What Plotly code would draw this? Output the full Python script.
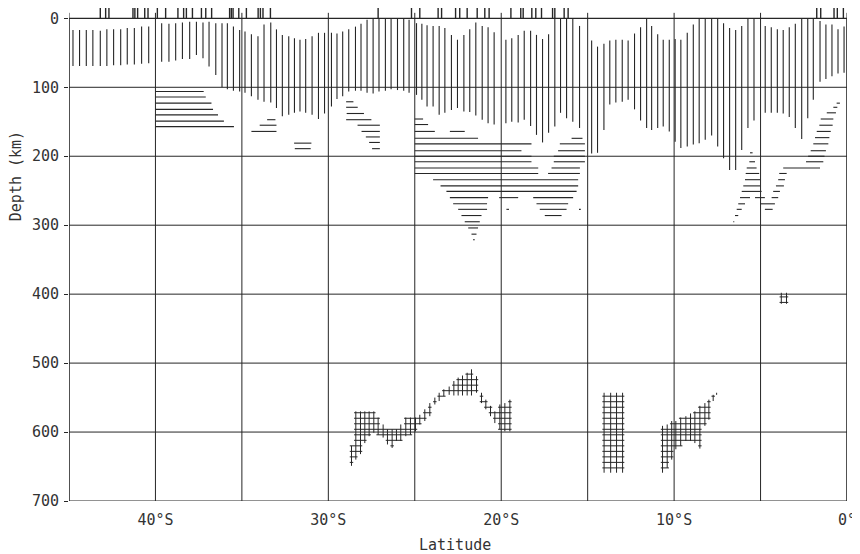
import plotly.graph_objects as go

# ---------------- data (latitude in degrees south, depth in km) ----------------
# vertical hatching: shallow seismicity, one line per latitude sample
VH_LAT = [44.77, 44.39, 44.00, 43.62, 43.19, 42.81, 42.42, 42.01, 41.63, 41.22, 40.80, 40.39,
          39.64, 39.22, 38.83, 38.44, 38.02, 37.63, 37.25, 36.90, 36.51, 36.15, 35.84, 35.49,
          35.13, 34.82, 34.45, 34.07,
          33.72, 33.33, 33.00, 32.66, 32.29, 31.96, 31.64, 31.31, 30.94, 30.57, 30.22, 29.82,
          29.50, 29.17, 28.82, 28.43, 28.11, 27.76, 27.41, 27.07, 26.70, 26.37, 26.00, 25.64,
          25.33, 24.90, 24.59, 24.29, 23.94, 23.59, 23.26,
          22.88, 22.53, 22.16, 21.82, 21.47, 21.10, 20.76, 20.41, 19.73, 19.39, 19.02, 18.67,
          18.30, 17.96, 17.61, 17.26, 16.90, 16.57, 16.22, 15.86, 15.47, 14.77, 14.43, 14.06,
          13.72, 13.37, 13.00, 12.66, 12.29, 11.94, 11.59, 11.30, 10.95, 10.63, 10.28, 9.94,
          9.61, 9.24, 8.89, 8.55, 8.20, 7.83, 7.48, 7.14, 6.79, 6.44, 6.09, 5.73, 5.38,
          4.73, 4.38, 4.03, 3.69, 3.34, 2.99, 2.62, 2.27, 1.95, 1.56, 1.22, 0.87, 0.52, 0.17]
VH_TOP = [17, 17, 17, 17, 18, 16, 16, 16, 14, 14, 12, 12,
          7, 8, 7, 6, 5, 5, 6, 5, 7, 7, 7, 12,
          17, 19, 23, 26,
          9, 6, 16, 24, 26, 29, 31, 30, 26, 21, 21, 21,
          22, 19, 16, 12, 8, 2, 0, 0, 0, 0, 0, 0,
          2, 7, 8, 10, 11, 11, 14,
          24, 31, 24, 16, 6, 11, 13, 20, 31, 29, 24, 18,
          18, 24, 30, 23, 0, 0, 0, 0, 11, 32, 41, 37,
          32, 31, 31, 32, 22, 13, 1, 11, 23, 31, 31, 30,
          31, 21, 9, 0, 0, 0, 0, 7, 14, 17, 11, 0, 0,
          11, 13, 16, 17, 13, 8, 1, 1, 1, 4, 9, 9, 16, 12]
VH_BOT = [69, 69, 69, 69, 69, 69, 68, 68, 67, 67, 66, 65,
          63, 63, 61, 59, 59, 53, 58, 70, 82, 100, 103, 105,
          106, 108, 113, 118,
          121, 122, 130, 142, 140, 137, 135, 137, 140, 146, 138, 128,
          117, 113, 106, 105, 105, 108, 109, 106, 105, 103, 104, 105,
          108, 111, 118, 128, 128, 140, 137,
          133, 130, 135, 136, 141, 147, 152, 154, 152, 150, 151, 147,
          156, 169, 180, 166, 157, 137, 145, 150, 159, 196, 195, 162,
          125, 122, 121, 118, 132, 148, 159, 162, 159, 157, 164, 179,
          188, 186, 183, 181, 176, 170, 186, 203, 220, 220, 191, 159, 148,
          137, 137, 137, 138, 143, 159, 175, 145, 118, 92, 88, 84, 80, 79]

# horizontal hatching: intermediate-depth seismicity, one segment per depth level
HH_DEPTH = [106, 114, 123, 132, 140, 149, 157,
            147, 155, 164, 181, 189,
            121, 129, 138, 147, 155, 164, 172, 180, 189,
            146, 154, 164, 164, 174, 174, 182, 182, 192, 192, 200, 200, 208, 208,
            217, 217, 225, 225, 234, 243, 251, 260, 260, 260, 269, 269,
            277, 277, 277, 277, 286, 286, 295, 304, 313, 321,
            123, 129, 137, 146, 155, 164, 173, 182, 192, 200, 208, 217,
            195, 208, 217, 225, 225, 234, 234, 243, 243, 251, 251,
            260, 260, 260, 269, 269, 277, 277, 286, 295]
HH_FROM = [40.00, 40.00, 40.00, 40.00, 40.00, 40.00, 40.00,
           33.54, 33.97, 34.45, 31.98, 31.94,
           28.97, 28.97, 28.94, 28.97, 28.31, 28.08, 27.83, 27.64, 27.47,
           25.00, 25.00, 25.00, 22.97, 25.00, 15.93, 25.00, 16.61, 25.00, 16.71, 25.00, 16.96, 25.00, 16.96,
           25.00, 17.09, 25.00, 17.29, 23.94, 23.51, 23.17, 22.97, 20.12, 18.15, 22.78, 17.96,
           22.49, 19.70, 17.77, 15.50, 22.30, 17.48, 22.11, 21.91, 21.72, 21.63,
           0.60, 0.79, 1.17, 1.52, 1.60, 1.75, 1.85, 1.95, 2.10, 2.25, 2.37, 3.69,
           5.61, 5.65, 5.80, 5.86, 3.92, 5.90, 3.98, 6.00, 4.11, 6.09, 4.27,
           6.19, 5.32, 4.36, 6.29, 5.03, 6.38, 4.75, 6.48, 6.58]
HH_TO = [37.21, 37.09, 36.76, 36.67, 36.38, 36.04, 35.46,
         33.06, 33.00, 33.00, 30.98, 31.02,
         28.55, 28.30, 27.94, 27.51, 27.02, 27.02, 27.02, 27.02, 27.02,
         24.52, 24.23, 23.84, 22.11, 21.34, 15.30, 18.25, 15.16, 18.83, 15.16, 18.25, 15.16, 18.25, 15.16,
         17.86, 15.45, 17.86, 15.45, 15.55, 15.55, 15.64, 20.76, 19.02, 15.84, 20.82, 16.13,
         20.82, 19.55, 16.22, 15.40, 21.14, 16.51, 21.24, 21.34, 21.43, 21.53,
         0.41, 0.56, 0.64, 0.79, 0.83, 0.94, 1.02, 1.08, 1.22, 1.30, 1.37, 1.56,
         5.46, 5.32, 5.23, 5.08, 3.49, 5.03, 3.59, 5.03, 3.65, 4.94, 3.88,
         5.61, 4.75, 3.98, 5.90, 4.17, 6.09, 4.30, 6.29, 6.52]

# cross-hatched deep seismicity: columns (latitude, top depth, bottom depth)
XA_LAT = [28.66, 28.41, 28.14, 27.89, 27.64, 27.37, 27.12, 26.83, 26.58, 26.31, 26.06, 25.81,
          25.52, 25.25, 24.96, 24.71, 24.42, 24.13, 23.84, 23.59, 23.32, 23.01, 22.74, 22.49,
          22.24, 21.97, 21.72, 21.43, 21.14, 20.89, 20.62, 20.37, 20.08, 19.79, 19.50]
XA_TOP = [620, 570, 570, 570, 570, 570, 579, 589, 596, 596, 596, 589,
          579, 579, 579, 575, 567, 558, 550, 543, 538, 534, 526, 521,
          518, 514, 509, 519, 543, 553, 562, 570, 560, 558, 553]
XA_BOT = [649, 640, 632, 616, 606, 601, 604, 608, 618, 623, 613, 613,
          606, 604, 599, 589, 584, 577, 560, 555, 548, 546, 547, 547,
          547, 547, 547, 543, 558, 567, 577, 587, 596, 599, 599]
XB_LAT = [14.05, 13.67, 13.33, 12.98]
XB_TOP = [543, 543, 543, 543]
XB_BOT = [659, 659, 659, 659]
XC_LAT = [10.67, 10.40, 10.14, 9.90, 9.62, 9.32, 9.05, 8.80, 8.51, 8.22, 7.99, 7.74, 7.54]
XC_TOP = [591, 589, 584, 584, 579, 577, 573, 570, 562, 558, 553, 546, 543]
XC_BOT = [659, 652, 640, 625, 620, 613, 613, 616, 624, 591, 582, 555, 546]
XD_LAT = [3.80, 3.50]
XD_TOP = [398, 398]
XD_BOT = [414, 414]

# station marks above the section
ST_LAT = [43.19, 42.88, 42.69, 41.30, 41.19, 41.03, 40.62, 40.43, 39.89, 39.41, 38.70, 38.37,
          38.21, 37.86, 37.34, 37.09, 36.75, 35.71, 35.61, 35.51, 35.18, 34.74, 34.06, 33.93,
          33.78, 33.35, 27.12, 25.19, 24.71, 23.65, 23.45, 22.64, 22.40, 21.97, 21.39, 20.95,
          20.70, 19.44, 18.87, 18.73, 18.23, 18.00, 17.67, 17.03, 16.90, 16.36, 16.13,
          1.75, 1.52, 0.75, 0.56, 0.21]
ST_TOP = [-15] * 26 + [-24] + [-15] * 25

X_TICKS = [45, 40, 35, 30, 25, 20, 15, 10, 5, 0]
X_TEXT = ["", "40°S", "", "30°S", "", "20°S", "", "10°S", "", "0°"]
Y_TICKS = [0, 100, 200, 300, 400, 500, 600, 700]

# ---------------- style ----------------
INK = "#262626"
TXT = "#333333"
FONT = "DejaVu Sans Mono"
ROW_STEP = 8       # spacing of the cross-hatch rows (km)
ROW_START = 396
ROW_EXT = 0.1      # horizontal overhang of the cross-hatch rows (deg)


def vsegs(lats, tops, bots):
    xs, ys = [], []
    for la, t, b in zip(lats, tops, bots):
        xs += [la, la, None]
        ys += [t, b, None]
    return xs, ys


def hsegs(depths, froms, tos):
    xs, ys = [], []
    for d, a, b in zip(depths, froms, tos):
        xs += [a, b, None]
        ys += [d, d, None]
    return xs, ys


def cross(lats, tops, bots):
    xs, ys = vsegs(lats, tops, bots)
    d = ROW_START
    while d <= 700:
        run = []
        for i, (t, b) in enumerate(zip(tops, bots)):
            if t <= d <= b:
                run.append(i)
            else:
                if run:
                    xs += [lats[run[0]] + ROW_EXT, lats[run[-1]] - ROW_EXT, None]
                    ys += [d, d, None]
                run = []
        if run:
            xs += [lats[run[0]] + ROW_EXT, lats[run[-1]] - ROW_EXT, None]
            ys += [d, d, None]
        d += ROW_STEP
    return xs, ys


fig = go.Figure()


def add(xs, ys, w=1.1):
    fig.add_trace(go.Scatter(x=xs, y=ys, mode="lines", line=dict(color=INK, width=w),
                             hoverinfo="skip", showlegend=False))


add(*vsegs(VH_LAT, VH_TOP, VH_BOT))
add(*hsegs(HH_DEPTH, HH_FROM, HH_TO))
for la, tp, bt in [(XA_LAT, XA_TOP, XA_BOT), (XB_LAT, XB_TOP, XB_BOT),
                   (XC_LAT, XC_TOP, XC_BOT), (XD_LAT, XD_TOP, XD_BOT)]:
    add(*cross(la, tp, bt), w=1.0)
add(*vsegs(ST_LAT, ST_TOP, [0] * len(ST_LAT)), w=1.4)

shapes = [dict(type="rect", xref="x", yref="y", x0=X_TICKS[0], x1=X_TICKS[-1],
               y0=Y_TICKS[0], y1=Y_TICKS[-1], line=dict(color=INK, width=1.2), layer="below")]
for v in X_TICKS:
    shapes.append(dict(type="line", xref="x", yref="y", x0=v, x1=v, y0=-8, y1=Y_TICKS[-1],
                       line=dict(color=INK, width=1.0), layer="below"))
for d in Y_TICKS[1:-1]:
    shapes.append(dict(type="line", xref="x", yref="y", x0=X_TICKS[0], x1=X_TICKS[-1], y0=d, y1=d,
                       line=dict(color=INK, width=1.0), layer="below"))

# the page body adds an 8 px offset, so the figure is sized to the remaining window
fig.update_layout(
    width=852, height=546,
    margin=dict(l=61, r=13, t=0, b=53, autoexpand=False),
    paper_bgcolor="white", plot_bgcolor="white",
    shapes=shapes,
    xaxis=dict(range=[45, 0], tickvals=X_TICKS, ticktext=X_TEXT, showgrid=False,
               zeroline=False, showline=False, ticks="", automargin=False,
               tickfont=dict(family=FONT, size=15, color=TXT), ticklabelstandoff=8),
    yaxis=dict(range=[700, -15], tickvals=Y_TICKS, showgrid=False, zeroline=False,
               showline=False, ticks="outside", ticklen=4, tickwidth=1.0, tickcolor=INK,
               automargin=False,
               tickfont=dict(family=FONT, size=15, color=TXT), ticklabelstandoff=2),
    annotations=[
        dict(text="Latitude", xref="paper", yref="paper", x=0.496, y=-0.0892,
             xanchor="center", yanchor="middle", showarrow=False,
             font=dict(family=FONT, size=15, color=TXT)),
        dict(text="Depth (km)", xref="paper", yref="paper", x=-0.068, y=0.659,
             xanchor="center", yanchor="middle", showarrow=False, textangle=-90,
             font=dict(family=FONT, size=15, color=TXT)),
    ],
)

fig.write_html("out.html")
